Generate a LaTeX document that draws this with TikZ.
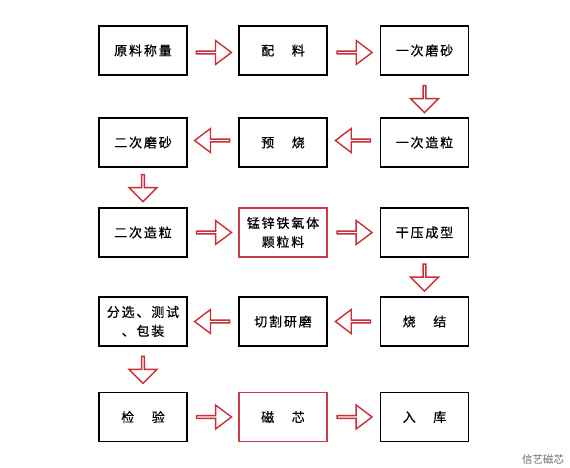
\documentclass[tikz,border=0pt]{standalone}
\usepackage{fontspec}
\usetikzlibrary{shapes.arrows,calc}
\newfontfamily\cjk[LetterSpace=14,FakeBold=0.6]{Noto Sans CJK SC}
\newfontfamily\cjkw{Noto Sans CJK SC}
\definecolor{arrred}{RGB}{205,45,55}
\definecolor{boxred}{RGB}{205,60,70}
\definecolor{wmgray}{RGB}{105,105,105}
\newcommand{\gap}{\hspace{1.35em}}
\begin{document}
\begin{tikzpicture}[x=1pt,y=-1pt,
  stepbox/.style={draw=black,line width=1.8pt,minimum width=88pt,minimum height=49pt,inner sep=2pt,
    font=\cjk\fontsize{13}{19}\selectfont,align=center},
  redbox/.style={stepbox,draw=boxred,line width=1.4pt},
  rarr/.style={single arrow,draw=arrred,line width=1.4pt,fill=white,minimum height=35pt,minimum width=24pt,
    single arrow head extend=5.5pt,single arrow tip angle=74,inner sep=0pt},
  larr/.style={rarr,shape border rotate=180},
  darr/.style={single arrow,draw=arrred,line width=1.4pt,fill=white,minimum height=27pt,minimum width=28pt,
    single arrow head extend=6.5pt,single arrow tip angle=90,inner sep=0pt,shape border rotate=270}]
\useasboundingbox (0,0) rectangle (570,468);
\node[stepbox] (b1) at (143,50.5) {原料称量};
\node[stepbox] (b2) at (283,50.5) {配\gap 料};
\node[stepbox] (b3) at (424.5,50.5) {一次磨砂};
\node[stepbox] (b4) at (424.5,142.5) {一次造粒};
\node[stepbox] (b5) at (283,142.5) {预\gap 烧};
\node[stepbox] (b6) at (143,142.5) {二次磨砂};
\node[stepbox] (b7) at (143,232.5) {二次造粒};
\node[redbox] (b8) at (283,232.5) {锰锌铁氧体\\颗粒料};
\node[stepbox] (b9) at (424.5,232.5) {干压成型};
\node[stepbox] (b10) at (424.5,321.5) {烧\gap 结};
\node[stepbox] (b11) at (283,321.5) {切割研磨};
\node[stepbox] (b12) at (143,321.5) {分选、测试\\、包装};
\node[stepbox] (b13) at (143,417) {检\gap 验};
\node[redbox] (b14) at (283,417) {磁\gap 芯};
\node[stepbox] (b15) at (424.5,417) {入\gap 库};
\node[rarr] (a1) at ($(b1.east)!0.5!(b2.west)+(0,2)$) {};
\node[rarr] (a2) at ($(b2.east)!0.5!(b3.west)+(0,2)$) {};
\node[darr] (a3) at ($(b3.south)!0.5!(b4.north)+(0,2)$) {};
\node[larr] (a4) at ($(b4.west)!0.5!(b5.east)+(0,-2)$) {};
\node[larr] (a5) at ($(b5.west)!0.5!(b6.east)+(0,-2)$) {};
\node[darr] (a6) at ($(b6.south)!0.5!(b7.north)$) {};
\node[rarr] (a7) at ($(b7.east)!0.5!(b8.west)$) {};
\node[rarr] (a8) at ($(b8.east)!0.5!(b9.west)$) {};
\node[darr] (a9) at ($(b9.south)!0.5!(b10.north)$) {};
\node[larr] (a10) at ($(b10.west)!0.5!(b11.east)$) {};
\node[larr] (a11) at ($(b11.west)!0.5!(b12.east)$) {};
\node[darr] (a12) at ($(b12.south)!0.5!(b13.north)$) {};
\node[rarr] (a13) at ($(b13.east)!0.5!(b14.west)$) {};
\node[rarr] (a14) at ($(b14.east)!0.5!(b15.west)$) {};
\node[font=\cjkw\fontsize{10.5}{12}\selectfont,text=wmgray,inner sep=0pt] (wm) at (543,460) {信艺磁芯};
\end{tikzpicture}
\end{document}
